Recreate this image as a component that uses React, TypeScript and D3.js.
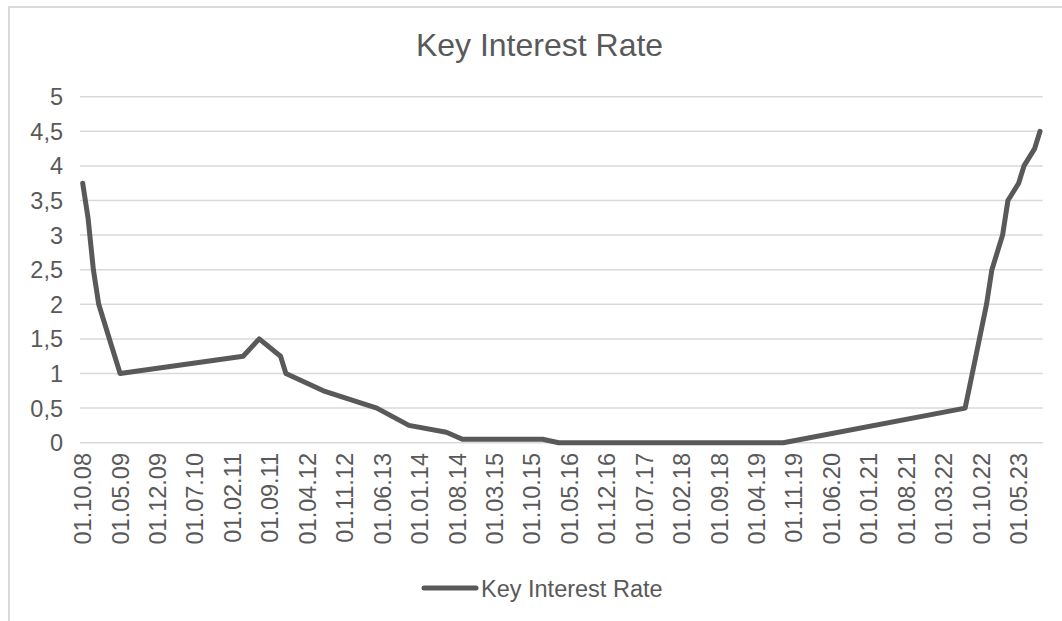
import React from "react";
import * as d3 from "d3";

const seriesName = "Key Interest Rate";
const chartTitle = "Key Interest Rate";

const dates = [
  "01.10.08", "01.11.08", "01.12.08", "01.01.09", "01.03.09", "01.04.09", "01.05.09",
  "01.04.11", "01.07.11", "01.11.11", "01.12.11", "01.07.12", "01.05.13", "01.11.13",
  "01.06.14", "01.09.14", "01.12.15", "01.03.16", "01.09.19", "01.07.22", "01.09.22",
  "01.11.22", "01.12.22", "01.02.23", "01.03.23", "01.05.23", "01.06.23", "01.08.23",
  "01.09.23",
];
const rates = [
  3.75, 3.25, 2.5, 2.0, 1.5, 1.25, 1.0,
  1.25, 1.5, 1.25, 1.0, 0.75, 0.5, 0.25,
  0.15, 0.05, 0.05, 0, 0, 0.5, 1.25,
  2.0, 2.5, 3.0, 3.5, 3.75, 4.0, 4.25,
  4.5,
];
const yTicks = [0, 0.5, 1, 1.5, 2, 2.5, 3, 3.5, 4, 4.5, 5];
const axisStart = "01.10.08";
const axisEnd = "01.09.23";
const labelStepMonths = 7;

const monthIndex = (s: string) => {
  const [, m, y] = s.split(".").map(Number);
  return (2000 + y) * 12 + (m - 1);
};
const fmt = (idx: number) => {
  const y = Math.floor(idx / 12);
  const m = (idx % 12) + 1;
  return `01.${String(m).padStart(2, "0")}.${String(y % 100).padStart(2, "0")}`;
};

export default function App() {
  const W = 1062, H = 621;
  const left = 80, right = 1042.7, top = 96.7, bottom = 442.7;
  const i0 = monthIndex(axisStart);
  const i1 = monthIndex(axisEnd);
  const x = d3.scaleLinear().domain([i0 - 0.5, i1 + 0.5]).range([left, right]);
  const y = d3.scaleLinear().domain([0, 5]).range([bottom, top]);
  const pts = dates.map((d, i) => [monthIndex(d), rates[i]] as [number, number]);
  const line = d3.line<[number, number]>().x((d) => x(d[0])).y((d) => y(d[1]));
  const labelIdx = d3.range(i0, i1 + 1, labelStepMonths);
  const font = "'Liberation Sans', Arial, sans-serif";
  const textColor = "#595959";

  return (
    <svg width={W} height={H} style={{ position: "fixed", left: 0, top: 0, background: "#fff" }}>
      <rect x={9} y={7} width={1200} height={800} fill="#fff" stroke="#d9d9d9" strokeWidth={2} />
      <text x={539.5} y={56} textAnchor="middle" fontFamily={font} fontSize={32} fill={textColor}>
        {chartTitle}
      </text>
      {yTicks.map((t) => (
        <g key={t}>
          <line x1={left} x2={right} y1={y(t)} y2={y(t)} stroke="#d9d9d9" strokeWidth={1.5} />
          <text x={63} y={y(t)} dy="0.36em" textAnchor="end" fontFamily={font} fontSize={23.5} fill={textColor}>
            {String(t).replace(".", ",")}
          </text>
        </g>
      ))}
      {labelIdx.map((idx) => (
        <text
          key={idx}
          transform={`translate(${x(idx)},453) rotate(-90)`}
          dy="0.36em"
          textAnchor="end"
          fontFamily={font}
          fontSize={23.5}
          fill={textColor}
        >
          {fmt(idx)}
        </text>
      ))}
      <path d={line(pts) || ""} fill="none" stroke="#595959" strokeWidth={5} strokeLinejoin="round" strokeLinecap="round" />
      <line x1={424} x2={476} y1={588} y2={588} stroke="#595959" strokeWidth={5} strokeLinecap="round" />
      <text x={481} y={596.5} fontFamily={font} fontSize={23.5} fill={textColor}>
        {seriesName}
      </text>
    </svg>
  );
}
